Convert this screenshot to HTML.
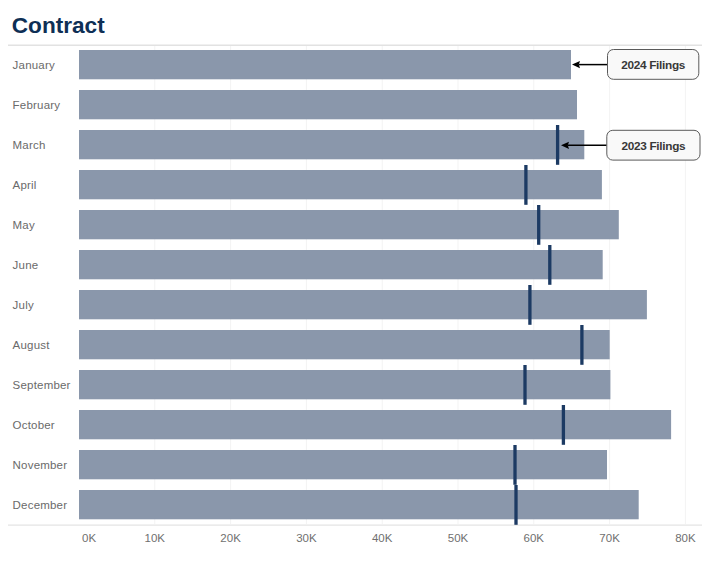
<!DOCTYPE html>
<html><head><meta charset="utf-8"><style>
html,body{margin:0;padding:0;background:#fff;}
body{width:710px;height:568px;overflow:hidden;}
svg{display:block;}
text{font-family:"Liberation Sans",sans-serif;}
</style></head><body>
<svg width="710" height="568" viewBox="0 0 710 568">
<rect x="0" y="0" width="710" height="568" fill="#fff"/>

<text x="11.8" y="33" font-size="22.6" font-weight="bold" fill="#0e2f55">Contract</text>
<rect x="154.30" y="46" width="1" height="478" fill="#f3f3f3"/>
<rect x="230.10" y="46" width="1" height="478" fill="#f3f3f3"/>
<rect x="305.90" y="46" width="1" height="478" fill="#f3f3f3"/>
<rect x="381.70" y="46" width="1" height="478" fill="#f3f3f3"/>
<rect x="457.50" y="46" width="1" height="478" fill="#f3f3f3"/>
<rect x="533.30" y="46" width="1" height="478" fill="#f3f3f3"/>
<rect x="609.10" y="46" width="1" height="478" fill="#f3f3f3"/>
<rect x="684.90" y="46" width="1" height="478" fill="#f3f3f3"/>
<rect x="8" y="44.5" width="694" height="1.5" fill="#e2e2e2"/>
<rect x="8" y="524.5" width="694" height="1.2" fill="#e3e3e3"/>
<rect x="79.0" y="50.0" width="492.00" height="29.3" fill="#8a97ab"/>
<rect x="79.0" y="90.0" width="498.00" height="29.3" fill="#8a97ab"/>
<rect x="79.0" y="130.0" width="505.30" height="29.3" fill="#8a97ab"/>
<rect x="79.0" y="170.0" width="522.90" height="29.3" fill="#8a97ab"/>
<rect x="79.0" y="210.0" width="539.80" height="29.3" fill="#8a97ab"/>
<rect x="79.0" y="250.0" width="523.70" height="29.3" fill="#8a97ab"/>
<rect x="79.0" y="290.0" width="567.90" height="29.3" fill="#8a97ab"/>
<rect x="79.0" y="330.0" width="530.70" height="29.3" fill="#8a97ab"/>
<rect x="79.0" y="370.0" width="531.40" height="29.3" fill="#8a97ab"/>
<rect x="79.0" y="410.0" width="592.10" height="29.3" fill="#8a97ab"/>
<rect x="79.0" y="450.0" width="528.00" height="29.3" fill="#8a97ab"/>
<rect x="79.0" y="490.0" width="559.70" height="29.3" fill="#8a97ab"/>
<rect x="555.95" y="125.0" width="3.3" height="39.8" fill="#1c3a63"/>
<rect x="524.25" y="165.0" width="3.3" height="39.8" fill="#1c3a63"/>
<rect x="537.05" y="205.0" width="3.3" height="39.8" fill="#1c3a63"/>
<rect x="548.15" y="245.0" width="3.3" height="39.8" fill="#1c3a63"/>
<rect x="528.25" y="285.0" width="3.3" height="39.8" fill="#1c3a63"/>
<rect x="580.25" y="325.0" width="3.3" height="39.8" fill="#1c3a63"/>
<rect x="523.35" y="365.0" width="3.3" height="39.8" fill="#1c3a63"/>
<rect x="561.75" y="405.0" width="3.3" height="39.8" fill="#1c3a63"/>
<rect x="513.35" y="445.0" width="3.3" height="39.8" fill="#1c3a63"/>
<rect x="514.35" y="485.0" width="3.3" height="39.8" fill="#1c3a63"/>
<text x="12.6" y="69.0" font-size="11.5" letter-spacing="0.2" fill="#6a6a6a">January</text>
<text x="12.6" y="109.0" font-size="11.5" letter-spacing="0.2" fill="#6a6a6a">February</text>
<text x="12.6" y="149.0" font-size="11.5" letter-spacing="0.2" fill="#6a6a6a">March</text>
<text x="12.6" y="189.0" font-size="11.5" letter-spacing="0.2" fill="#6a6a6a">April</text>
<text x="12.6" y="229.0" font-size="11.5" letter-spacing="0.2" fill="#6a6a6a">May</text>
<text x="12.6" y="269.0" font-size="11.5" letter-spacing="0.2" fill="#6a6a6a">June</text>
<text x="12.6" y="309.0" font-size="11.5" letter-spacing="0.2" fill="#6a6a6a">July</text>
<text x="12.6" y="349.0" font-size="11.5" letter-spacing="0.2" fill="#6a6a6a">August</text>
<text x="12.6" y="389.0" font-size="11.5" letter-spacing="0.2" fill="#6a6a6a">September</text>
<text x="12.6" y="429.0" font-size="11.5" letter-spacing="0.2" fill="#6a6a6a">October</text>
<text x="12.6" y="469.0" font-size="11.5" letter-spacing="0.2" fill="#6a6a6a">November</text>
<text x="12.6" y="509.0" font-size="11.5" letter-spacing="0.2" fill="#6a6a6a">December</text>
<text x="82" y="542.4" font-size="11.5" fill="#707070">0K</text>
<text x="154.80" y="542.4" font-size="11.5" fill="#707070" text-anchor="middle">10K</text>
<text x="230.60" y="542.4" font-size="11.5" fill="#707070" text-anchor="middle">20K</text>
<text x="306.40" y="542.4" font-size="11.5" fill="#707070" text-anchor="middle">30K</text>
<text x="382.20" y="542.4" font-size="11.5" fill="#707070" text-anchor="middle">40K</text>
<text x="458.00" y="542.4" font-size="11.5" fill="#707070" text-anchor="middle">50K</text>
<text x="533.80" y="542.4" font-size="11.5" fill="#707070" text-anchor="middle">60K</text>
<text x="609.60" y="542.4" font-size="11.5" fill="#707070" text-anchor="middle">70K</text>
<text x="685.40" y="542.4" font-size="11.5" fill="#707070" text-anchor="middle">80K</text>
<line x1="607.5" y1="64.6" x2="579" y2="64.6" stroke="#000" stroke-width="1.5"/>
<path d="M572 64.6 L580 60.99999999999999 L578.8 64.6 L580 68.19999999999999 Z" fill="#000"/>
<rect x="607.5" y="49.5" width="91.3" height="29.8" rx="6" ry="6" fill="#f9f9f9" stroke="#5a5a5a" stroke-width="1"/>
<text x="653.15" y="69.0" font-size="11.8" font-weight="bold" letter-spacing="-0.3" fill="#383838" text-anchor="middle">2024 Filings</text>
<line x1="606.8" y1="145.3" x2="568" y2="145.3" stroke="#000" stroke-width="1.5"/>
<path d="M561 145.3 L569 141.70000000000002 L567.8 145.3 L569 148.9 Z" fill="#000"/>
<rect x="606.8" y="130.3" width="93.2" height="29.8" rx="6" ry="6" fill="#f9f9f9" stroke="#5a5a5a" stroke-width="1"/>
<text x="653.40" y="149.8" font-size="11.8" font-weight="bold" letter-spacing="-0.3" fill="#383838" text-anchor="middle">2023 Filings</text>
</svg></body></html>
